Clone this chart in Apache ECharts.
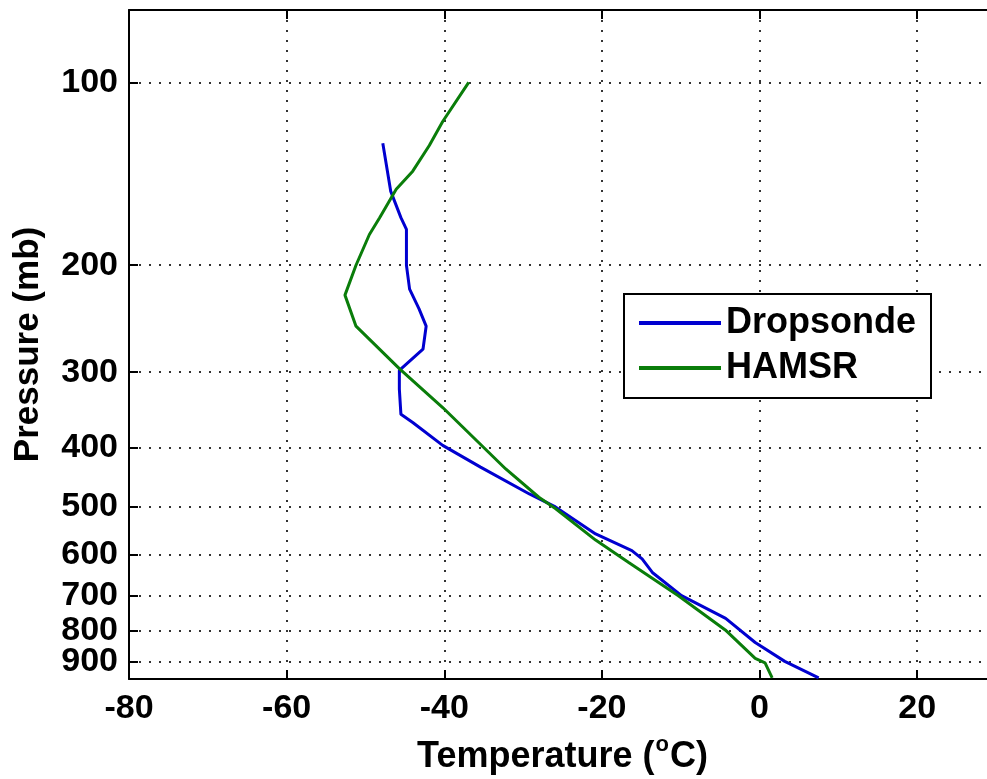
<!DOCTYPE html>
<html><head><meta charset="utf-8">
<script src="https://cdn.jsdelivr.net/npm/echarts@6/dist/echarts.min.js"></script>
<style>html,body{margin:0;padding:0;background:#fff}#c{width:987px;height:779px}</style>
</head><body><div id="c"></div>
<script>
// Tick labels
const pressureTicks = [100, 200, 300, 400, 500, 600, 700, 800, 900];
const tempTicks = [-80, -60, -40, -20, 0, 20];
// Dropsonde profile (pressure mb, temperature °C)
const dropP = [126, 151, 167, 174.6, 200, 219, 236, 252, 275, 298, 320, 352, 363, 396, 430, 476, 500, 554, 590, 609, 641, 700, 763, 836, 898, 956];
const dropT = [-47.8, -46.8, -45.5, -44.8, -44.8, -44.4, -43.2, -42.3, -42.7, -45.7, -45.7, -45.5, -44.0, -40.2, -35.4, -29.2, -25.9, -20.8, -16.2, -14.9, -13.6, -9.9, -4.3, -0.55, 3.2, 7.5];
// HAMSR profile
const hamsrP = [100, 116, 127, 140, 150, 167, 178, 200, 224, 252, 296, 343, 433, 482, 503, 567, 617, 700, 797, 888, 903, 956];
const hamsrT = [-36.9, -40.2, -41.9, -44.0, -46.1, -48.2, -49.5, -51.2, -52.6, -51.2, -45.7, -40.2, -32.2, -28.0, -25.9, -20.8, -16.6, -10.3, -4.35, -0.55, 0.7, 1.6];
const seriesNames = ['Dropsonde', 'HAMSR'];

const FONT = '"Liberation Sans", Arial, Helvetica, sans-serif';
const pair = (T, P) => T.map((t, i) => [t, P[i]]);
const gridDots = { color: '#333', type: [2, 8], width: 2 };
// labels are split over two overlapping axes so that ECharts' end-label overlap check keeps all of them
const labelsA = pressureTicks.filter((v, i) => i % 2 === 0 || v < 800);
const labelsB = pressureTicks.filter(v => labelsA.indexOf(v) < 0);
const yLabelStyle = { show: true, margin: 11, color: '#000', fontFamily: FONT, fontWeight: 'bold', fontSize: 34 };

const chart = echarts.init(document.getElementById('c'), null, { renderer: 'canvas' });
chart.setOption({
  animation: false,
  backgroundColor: '#fff',
  grid: { left: 129, top: 10, width: 867, height: 669, containLabel: false, outerBoundsMode: 'none' },
  xAxis: [{
    type: 'value', min: -80, max: 30, interval: 20,
    position: 'bottom',
    axisLine: { show: true, onZero: false, lineStyle: { color: '#000', width: 2 } },
    axisTick: { show: true, inside: true, length: 9, lineStyle: { color: '#000', width: 2 }, customValues: tempTicks },
    axisLabel: { show: true, margin: 13, showMinLabel: true, showMaxLabel: true, color: '#000', fontFamily: FONT, fontWeight: 'bold', fontSize: 34, customValues: tempTicks },
    splitLine: { show: true, lineStyle: gridDots },
    name: '{a|Temperature (}{s|o}{a|C)}',
    nameLocation: 'middle', nameGap: 55,
    nameTextStyle: {
      rich: {
        a: { fontFamily: FONT, fontWeight: 'bold', fontSize: 36, color: '#000' },
        s: { fontFamily: FONT, fontWeight: 'bold', fontSize: 22, color: '#000', verticalAlign: 'top', padding: [0, 1, 24, 1] }
      }
    }
  }, {
    type: 'value', min: -80, max: 30, interval: 20,
    position: 'top',
    axisLine: { show: true, onZero: false, lineStyle: { color: '#000', width: 2 } },
    axisTick: { show: true, inside: true, length: 9, lineStyle: { color: '#000', width: 2 }, customValues: tempTicks },
    axisLabel: { show: false },
    splitLine: { show: false }
  }],
  yAxis: [{
    type: 'log', logBase: 10, min: 76, max: 960, inverse: true, position: 'left',
    axisLine: { show: true, onZero: false, lineStyle: { color: '#000', width: 2 } },
    axisTick: { show: true, inside: true, length: 9, lineStyle: { color: '#000', width: 2 }, customValues: pressureTicks },
    axisLabel: Object.assign({ customValues: labelsA }, yLabelStyle),
    splitLine: { show: true, lineStyle: gridDots },
    minorTick: { show: false }, minorSplitLine: { show: false },
    name: 'Pressure (mb)', nameLocation: 'middle', nameGap: 83,
    nameTextStyle: { fontFamily: FONT, fontWeight: 'bold', fontSize: 35, color: '#000' }
  }, {
    type: 'log', logBase: 10, min: 76, max: 960, inverse: true, position: 'left', offset: 0,
    axisLine: { show: false }, axisTick: { show: false },
    axisLabel: Object.assign({ customValues: labelsB }, yLabelStyle),
    splitLine: { show: false }, minorTick: { show: false }, minorSplitLine: { show: false }
  }],
  legend: {
    orient: 'vertical', left: 624, top: 294,
    data: seriesNames,
    icon: 'rect',
    backgroundColor: '#fff', borderColor: '#000', borderWidth: 2, borderRadius: 0,
    padding: [11, 15, 12, 15],
    itemWidth: 82, itemHeight: 4, itemGap: 9,
    textStyle: { fontFamily: FONT, fontWeight: 'bold', fontSize: 36, color: '#000' }
  },
  series: [{
    name: seriesNames[0], type: 'line', data: pair(dropT, dropP),
    symbol: 'none', smooth: false, clip: true,
    lineStyle: { color: '#0000d0', width: 3 }, itemStyle: { color: '#0000d0' }
  }, {
    name: seriesNames[1], type: 'line', data: pair(hamsrT, hamsrP),
    symbol: 'none', smooth: false, clip: true,
    lineStyle: { color: '#0a7d0a', width: 3 }, itemStyle: { color: '#0a7d0a' }
  }]
});
</script>
</body></html>
